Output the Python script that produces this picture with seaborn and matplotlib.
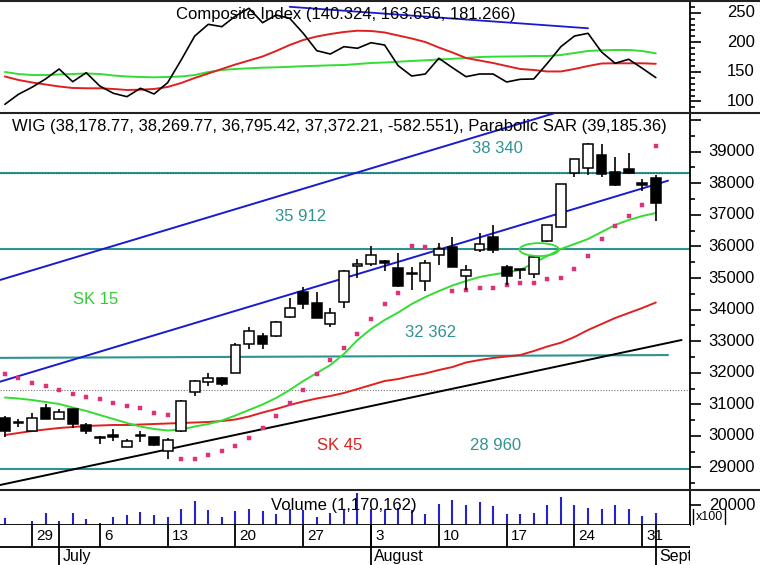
import numpy as np
import pandas as pd
import matplotlib
matplotlib.use('Agg')
import matplotlib.pyplot as plt
import seaborn as sns
from matplotlib.lines import Line2D
from matplotlib.patches import Ellipse
from matplotlib.ticker import MultipleLocator, FixedLocator
from matplotlib.transforms import blended_transform_factory

# ---------------- data ----------------
dates = pd.bdate_range('2009-06-25', '2009-09-01')

open_ = [30566, 30440, 30155, 30883, 30535, 30836, 30345, 29980, 30028, 29657,
         30000, 29955, 29531, 30155, 31399, 31697, 31824, 32001, 32900, 33163,
         33163, 33774, 34547, 34218, 33543, 34249, 35396, 35434, 35548, 35307,
         35158, 34915, 35729, 35972, 35063, 35887, 36308, 35358, 35301, 35127,
         36181, 36625, 38316, 38474, 38895, 38367, 38452, 38010, 38178.77]
high = [30630, 30535, 30725, 31010, 30860, 30850, 30408, 29990, 30218, 29901,
        30155, 29980, 29933, 31136, 31770, 31982, 31874, 32951, 33458, 33249,
        33624, 34357, 34706, 34547, 34041, 35254, 35592, 36014, 35570, 35782,
        35358, 35570, 36099, 36308, 35412, 36416, 36679, 35412, 35301, 35697,
        36694, 37977, 38769, 39276, 39234, 38842, 38968, 38130, 38269.77]
low = [29965, 30281, 30140, 30520, 30520, 30265, 30060, 29733, 29838, 29650,
       29816, 29680, 29268, 30123, 31263, 31580, 31580, 31992, 32751, 32742,
       33122, 33724, 34009, 33724, 33439, 34041, 34991, 35380, 35222, 34731,
       34620, 34598, 35412, 35349, 34620, 35833, 35801, 34794, 34962, 35010,
       36130, 36615, 38208, 38262, 38189, 37914, 38294, 37760, 36795.42]
close = [30155, 30408, 30566, 30535, 30756, 30376, 30140, 29948, 29965, 29838,
         30010, 29711, 29870, 31105, 31738, 31824, 31643, 32878, 33331, 32900,
         33597, 34041, 34177, 33743, 33882, 35222, 35428, 35729, 35466, 34747,
         35132, 35485, 35909, 35358, 35253, 36067, 35887, 35063, 35269, 35675,
         36679, 37968, 38759, 39244, 38294, 37945, 38316, 37955, 37372.21]

sar = [31960, 31824, 31684, 31580, 31453, 31326, 31241, 31159, 31032, 30946,
       30873, 30734, 30661, 29258, 29270, 29395, 29531, 29689, 29942, 30265,
       30614, 31041, 31453, 31950, 32413, 32774, 33217, 33702, 34177, 34541,
       36014, 35991, 35934, 34598, 34620, 34674, 34674, 34794, 34832, 34832,
       34962, 35000, 35295, 35706, 36226, 36637, 36964, 37312, 39185.36]

sk15 = [31215, 31184, 31136, 31073, 31010, 30899, 30788, 30661, 30535, 30408,
        30297, 30218, 30170, 30202, 30297, 30376, 30487, 30645, 30820, 30994,
        31200, 31453, 31738, 31991, 32245, 32593, 33037, 33385, 33670, 33907,
        34177, 34398, 34588, 34763, 34905, 35032, 35111, 35174, 35253, 35475,
        35697, 35919, 36077, 36235, 36457, 36679, 36837, 36964, 37059]
sk45 = [30028, 30091, 30155, 30202, 30250, 30281, 30313, 30329, 30345, 30345,
        30360, 30376, 30392, 30408, 30424, 30440, 30471, 30519, 30614, 30740,
        30851, 30978, 31089, 31184, 31263, 31358, 31485, 31611, 31738, 31801,
        31896, 31976, 32086, 32181, 32324, 32403, 32467, 32514, 32561, 32688,
        32831, 32951, 33132, 33353, 33543, 33733, 33892, 34050, 34224]

comp = [95.2, 112.1, 124, 138, 154.9, 133.4, 148.6, 126.1, 113.8, 108.1,
        122.3, 112.6, 131.7, 170.1, 210.6, 230.4, 226.4, 244.4, 257.5, 233.1,
        246.1, 240.6, 215.2, 185.8, 180.2, 192.6, 189.9, 199.3, 195.4, 160.5,
        143, 146.4, 173, 157.1, 141.9, 146.4, 146.4, 132.9, 137.5, 138,
        164.5, 192.6, 210.6, 215.2, 183.6, 164.5, 171.3, 156.1, 140.324]
comp_red = [142.2, 136.3, 132.1, 128.7, 125.3, 122.8, 122.3, 122.3, 121.1, 119.4,
            119.9, 121.1, 124.5, 131.2, 139.7, 147.3, 154.9, 162.5, 169.2, 176,
            185.3, 195.4, 203.9, 209.8, 214, 217.4, 219.6, 219.1, 216.6, 211.5,
            206.4, 200.5, 191.2, 182.8, 173.5, 169.2, 165, 159.9, 154.9, 153.2,
            150.7, 150.7, 154.9, 159.9, 164.2, 164.5, 164.5, 164.5, 163.656]
comp_green = [149.8, 146.4, 144.7, 144.7, 145.6, 146.4, 147.3, 146.4, 143.9, 142.2,
              141.4, 140.8, 141.4, 142.2, 144.7, 149.8, 153.2, 154.9, 156.1, 157.1,
              157.7, 158.6, 159.6, 160.3, 161.1, 161.6, 163.3, 165, 165.9, 167.2,
              168.4, 169.6, 170.9, 172.1, 173.5, 175.2, 175.7, 176, 176.3, 176.8,
              176.8, 178.5, 181.9, 185.3, 186.5, 187, 187, 185.3, 181.266]

volume = [6700, 1500, 4300, 12300, 4300, 12300, 5700, 2000, 8300, 10000,
          13300, 10000, 7700, 16300, 24000, 15000, 8300, 14300, 16300, 14300,
          11000, 16300, 15000, 8300, 12300, 16300, 31700, 15700, 15000, 16700,
          15000, 10700, 21000, 25000, 20000, 23300, 19000, 11000, 10700, 12300,
          20000, 27700, 20000, 16700, 15700, 20000, 16000, 9300, 11701.62]

levels = [38340, 35912, 28960]
level_32362 = [32470, 32560]       # slightly sloped line drawn for 32 362
ref_dotted = 31453

chan_x = [-0.36, 48.9]
chan_lower = [31716, 38082]
chan_upper = [34937, 41303]
support_x = [-0.36, 49.9]
support_y = [28444, 33037]
comp_trend_x = [21, 43]
comp_trend_y = [260, 223.7]

top_ticks = [100, 150, 200, 250]
main_ticks = [29000, 30000, 31000, 32000, 33000, 34000, 35000, 36000, 37000, 38000, 39000]
vol_ticks = [20000]

title_top = "Composite Index (140.324, 163.656, 181.266)"
title_main = "WIG (38,178.77, 38,269.77, 36,795.42, 37,372.21, -582.551), Parabolic SAR (39,185.36)"
title_vol = "Volume (1,170,162)"

# ---------------- style ----------------
sns.set_theme(style='white')
plt.rcParams['font.family'] = ['Liberation Sans', 'DejaVu Sans']

W, H = 760, 565
fig = plt.figure(figsize=(W / 100, H / 100), dpi=100)
fig.patch.set_facecolor('white')

RIGHT = 690
xw = RIGHT / W
XLIM = (-0.36, 50.52)

ax_top = fig.add_axes([0, 1 - 113 / H, xw, 112 / H])
ax_main = fig.add_axes([0, 1 - 490 / H, xw, 377 / H])
ax_vol = fig.add_axes([0, 1 - 525 / H, xw, 35 / H])
ax_date = fig.add_axes([0, 0, xw, 40 / H])

idx = np.arange(len(dates))
BLUE = '#1a1ad0'
TEAL = '#2f9393'
GREEN = '#33dd33'
RED = '#e02020'
PINK = '#e0307a'
FS = 12

for ax in (ax_top, ax_main, ax_vol, ax_date):
    ax.set_xlim(*XLIM)
    ax.set_facecolor('white')
    for s in ('top', 'left', 'bottom'):
        ax.spines[s].set_visible(False)
    ax.spines['right'].set_color('black')
    ax.spines['right'].set_linewidth(1.3)
    ax.set_xticks([])
    ax.grid(False)

ax_date.spines['right'].set_visible(False)
ax_vol.spines['bottom'].set_visible(True)
ax_vol.spines['bottom'].set_color('black')
ax_vol.spines['bottom'].set_linewidth(1.3)


def right_axis(ax, ticks, minor, labels_show, lim):
    ax.set_ylim(*lim)
    ax.yaxis.tick_right()
    ax.yaxis.set_major_locator(FixedLocator(ticks))
    if minor:
        ax.yaxis.set_minor_locator(MultipleLocator(minor))
    ax.tick_params(axis='y', which='major', length=8, width=1.2, color='black',
                   right=True, left=False, labelright=False, labelleft=False, direction='out')
    ax.tick_params(axis='y', which='minor', length=3.5, width=1.2, color='black',
                   right=True, left=False, direction='out')
    tr = blended_transform_factory(fig.transFigure, ax.transData)
    for t in labels_show:
        ax.text(755 / W, t, f"{t}", transform=tr, ha='right', va='center',
                fontsize=FS, color='black', clip_on=False)


# ---------------- top panel ----------------
right_axis(ax_top, top_ticks + [300], 10, top_ticks, (80.5, 269.8))
sns.lineplot(x=idx, y=comp_green, ax=ax_top, color=GREEN, linewidth=1.4, legend=False)
sns.lineplot(x=idx, y=comp_red, ax=ax_top, color=RED, linewidth=1.4, legend=False)
sns.lineplot(x=idx, y=comp, ax=ax_top, color='black', linewidth=1.2, legend=False)
ax_top.plot(comp_trend_x, comp_trend_y, color=BLUE, linewidth=1.3)
ax_top.text(0.5007, 0.875, title_top, transform=ax_top.transAxes, ha='center',
            va='center', fontsize=FS, color='black')
ax_top.set_ylabel('')

# ---------------- main panel ----------------
right_axis(ax_main, main_ticks + [40000], 500, main_ticks, (28286, 40226))

for lv in levels:
    ax_main.axhline(lv, color=TEAL, linewidth=1.5, zorder=1)
ax_main.axhline(levels[0], color='#3c5050', linewidth=0.8, linestyle=(0, (1, 1.5)), zorder=1)
ax_main.plot(chan_x, level_32362, color=TEAL, linewidth=1.5, zorder=1)
ax_main.axhline(ref_dotted, color='#777777', linewidth=0.8, linestyle=(0, (1, 1.5)), zorder=1)

ax_main.plot(chan_x, chan_upper, color=BLUE, linewidth=1.4, zorder=2)
ax_main.plot(chan_x, chan_lower, color=BLUE, linewidth=1.4, zorder=2)
ax_main.plot(support_x, support_y, color='black', linewidth=1.4, zorder=2)

sns.lineplot(x=idx, y=sk45, ax=ax_main, color=RED, linewidth=1.4, legend=False, zorder=2)
sns.lineplot(x=idx, y=sk15, ax=ax_main, color=GREEN, linewidth=1.4, legend=False, zorder=2)
sns.scatterplot(x=idx, y=sar, ax=ax_main, color=PINK, marker='s', s=7,
                edgecolor=PINK, linewidth=0.3, legend=False, zorder=3)

o = np.array(open_)
c = np.array(close)
bottoms = np.minimum(o, c)
heights = np.maximum(np.abs(c - o), 30)
fills = ['white' if cc >= oo else 'black' for oo, cc in zip(o, c)]
ax_main.vlines(idx, low, high, color='black', linewidth=1.2, zorder=4)
ax_main.bar(idx, heights, bottom=bottoms, width=0.72, color=fills,
            edgecolor='black', linewidth=1.1, zorder=5)

ax_main.add_patch(Ellipse((39.4, 35900), 2.9, 410, fill=False, edgecolor=GREEN,
                          linewidth=1.3, zorder=6))

ax_main.text(0.0174, 0.963, title_main, transform=ax_main.transAxes, ha='left',
             va='center', fontsize=FS, color='black')
ax_main.text(36.3, 39117, "38 340", ha='center', va='center', fontsize=FS, color=TEAL)
ax_main.text(21.84, 36941, "35 912", ha='center', va='center', fontsize=FS, color=TEAL)
ax_main.text(31.4, 33290, "32 362", ha='center', va='center', fontsize=FS, color=TEAL)
ax_main.text(36.2, 29711, "28 960", ha='center', va='center', fontsize=FS, color=TEAL)
ax_main.text(6.68, 34335, "SK 15", ha='center', va='center', fontsize=FS, color='#33cc33')
ax_main.text(24.7, 29711, "SK 45", ha='center', va='center', fontsize=FS, color='#dd2020')
ax_main.set_ylabel('')

# ---------------- volume panel ----------------
right_axis(ax_vol, vol_ticks, None, vol_ticks, (0, 35000))
ax_vol.vlines(idx, 0, volume, color='#2323c8', linewidth=1.5)
ax_vol.text(0.498, 0.543, title_vol, transform=ax_vol.transAxes, ha='center',
            va='center', fontsize=FS, color='black')
fig.text(709 / W, 1 - 516.5 / H, "x100", ha='center', va='center', fontsize=9, color='black')
for xx in (693, 725):
    fig.add_artist(Line2D([xx / W, xx / W], [1 - 509 / H, 1 - 524 / H],
                          transform=fig.transFigure, color='black', linewidth=1.0))

# ---------------- date axis ----------------
ax_date.set_ylim(0, 40)
ax_date.set_yticks([])
ax_date.axhline(18, color='black', linewidth=1.3)
mondays = [i for i, d in enumerate(dates) if d.weekday() == 0]
month_starts = [i for i in range(1, len(dates)) if dates[i].month != dates[i - 1].month]
for i in mondays:
    ax_date.vlines(i, 18, 40, color='black', linewidth=1.3)
    ax_date.text(i + 0.3, 29, str(dates[i].day), ha='left', va='center',
                 fontsize=11, color='black', clip_on=True)
for i in month_starts:
    ax_date.vlines(i, 0, 40, color='black', linewidth=1.3)
    ax_date.text(i + 0.25, 8, dates[i].strftime('%B'), ha='left', va='center',
                 fontsize=11.5, color='black', clip_on=True)

# ---------------- frame lines ----------------
for yy in (0.8, 113, 490):
    fig.add_artist(Line2D([0, 1], [1 - yy / H, 1 - yy / H], transform=fig.transFigure,
                          color='#222222', linewidth=1.5))

fig.savefig('out.png', dpi=100)
